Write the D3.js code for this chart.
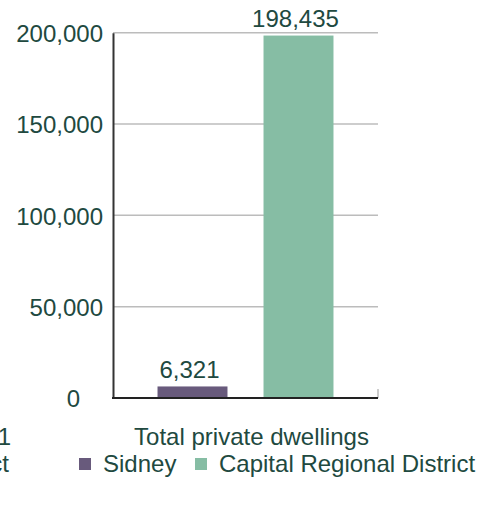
<!DOCTYPE html>
<html>
<head>
<meta charset="utf-8">
<script src="https://cdn.jsdelivr.net/npm/d3@7"></script>
<style>
  html, body { margin: 0; padding: 0; background: #fff; overflow: hidden; }
  svg { display: block; font-family: "Liberation Sans", Arial, sans-serif; }
</style>
</head>
<body>
<svg id="chart" width="494" height="507"></svg>
<script>
// Dwelling counts by geography
const categories = ["Total private dwellings"];
const seriesNames = ["Sidney", "Capital Regional District"];
const sidneyValues = [6321];
const crdValues = [198435];
const yTicks = [0, 50000, 100000, 150000, 200000];
const seriesColors = ["#685a7c", "#86bda4"];

const textColor = "#21493f";
const fontSize = 24;

const svg = d3.select("#chart");
const plot = { left: 113, right: 378, top: 32.7, bottom: 398 };

const x0 = d3.scaleBand().domain(categories).range([plot.left, plot.right]);
const x1 = d3.scaleBand().domain(seriesNames)
  .range([0, x0.bandwidth()])
  .paddingInner(0.34).paddingOuter(0.42);
const y = d3.scaleLinear().domain([0, 200000]).range([plot.bottom, plot.top]);
const fmt = d3.format(",");

// horizontal gridlines
svg.append("g")
  .selectAll("line")
  .data(yTicks.filter(t => t > 0))
  .join("line")
  .attr("x1", plot.left).attr("x2", plot.right)
  .attr("y1", d => y(d)).attr("y2", d => y(d))
  .attr("stroke", "#bcbcbc").attr("stroke-width", 1.5);

// right end tick of the baseline
svg.append("line")
  .attr("x1", plot.right).attr("x2", plot.right)
  .attr("y1", plot.bottom - 9).attr("y2", plot.bottom)
  .attr("stroke", "#bcbcbc").attr("stroke-width", 1.5);

// y axis
const yAxis = svg.append("g")
  .attr("transform", `translate(${plot.left},0)`)
  .call(d3.axisLeft(y).tickValues(yTicks).tickFormat(fmt).tickSize(0).tickPadding(10));
yAxis.select(".domain").attr("stroke", "#333").attr("stroke-width", 2);
yAxis.selectAll("text")
  .attr("fill", textColor)
  .style("font-size", fontSize + "px")
  .attr("dy", "0.37em");
// the zero label sits further out from the axis
yAxis.selectAll(".tick").filter(d => d === 0).select("text").attr("dx", -23);

// bars
const rows = categories.map((c, i) => ({
  category: c,
  values: [
    { key: seriesNames[0], value: sidneyValues[i], color: seriesColors[0] },
    { key: seriesNames[1], value: crdValues[i], color: seriesColors[1] }
  ]
}));

const groups = svg.append("g")
  .selectAll("g")
  .data(rows)
  .join("g")
  .attr("transform", d => `translate(${x0(d.category)},0)`);

groups.selectAll("rect")
  .data(d => d.values)
  .join("rect")
  .attr("x", d => x1(d.key))
  .attr("width", x1.bandwidth())
  .attr("y", d => y(d.value))
  .attr("height", d => y(0) - y(d.value))
  .attr("fill", d => d.color);

groups.selectAll("text.value")
  .data(d => d.values)
  .join("text")
  .attr("class", "value")
  .attr("x", d => x1(d.key) + x1.bandwidth() / 2 - 3)
  .attr("y", d => y(d.value) - 8.5)
  .attr("text-anchor", "middle")
  .attr("fill", textColor)
  .style("font-size", fontSize + "px")
  .text(d => fmt(d.value));

// x baseline
svg.append("line")
  .attr("x1", plot.left - 1).attr("x2", plot.right)
  .attr("y1", plot.bottom).attr("y2", plot.bottom)
  .attr("stroke", "#222").attr("stroke-width", 2);

// category labels
svg.append("g")
  .selectAll("text")
  .data(categories)
  .join("text")
  .attr("x", d => x0(d) + x0.bandwidth() / 2 + 6)
  .attr("y", 445)
  .attr("text-anchor", "middle")
  .attr("fill", textColor)
  .style("font-size", fontSize + "px")
  .text(d => d);

// neighbouring panel's labels running in from the left edge
svg.append("text")
  .attr("x", 11).attr("y", 445)
  .attr("text-anchor", "end")
  .attr("fill", textColor)
  .style("font-size", fontSize + "px")
  .text("Population, 2021");
svg.append("text")
  .attr("x", 9).attr("y", 472)
  .attr("text-anchor", "end")
  .attr("fill", textColor)
  .style("font-size", fontSize + "px")
  .text(seriesNames[1]);

// legend
const legendX = [79, 195];
const legend = svg.append("g")
  .selectAll("g")
  .data(seriesNames)
  .join("g")
  .attr("transform", (d, i) => `translate(${legendX[i]},472)`);
legend.append("rect")
  .attr("x", 0).attr("y", -14)
  .attr("width", 12).attr("height", 12)
  .attr("fill", (d, i) => seriesColors[i]);
legend.append("text")
  .attr("x", 24).attr("y", 0)
  .attr("fill", textColor)
  .style("font-size", fontSize + "px")
  .text(d => d);
</script>
</body>
</html>
